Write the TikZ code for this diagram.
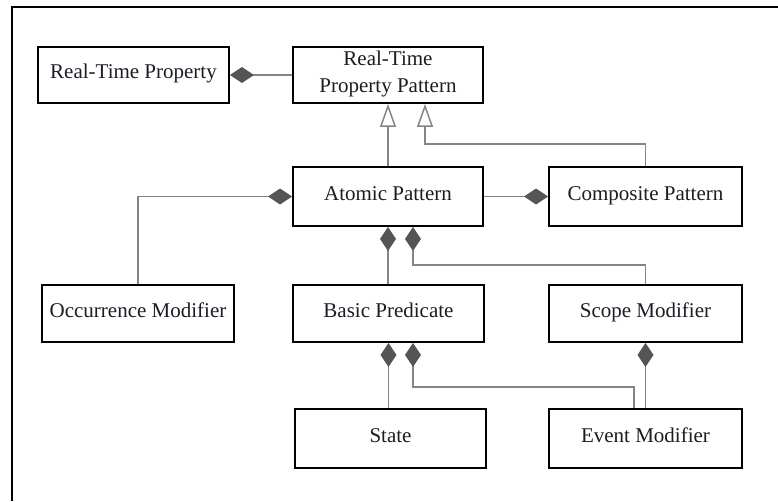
\documentclass[tikz,border=0pt]{standalone}
\usepackage{fontspec}
\setmainfont{Liberation Serif}
\usetikzlibrary{arrows.meta}
\definecolor{linkgray}{HTML}{858585}
\definecolor{tipgray}{HTML}{555555}
\definecolor{textink}{HTML}{1C1C26}
\begin{document}
\begin{tikzpicture}[x=1pt,y=-1pt,
  cls/.style={draw=black, line width=1.9pt, fill=white, text=textink,
    inner sep=0pt, align=center, font=\fontsize{21}{27}\selectfont,
    text height=15pt, text depth=7.4pt},
  link/.style={draw=linkgray, line width=1.9pt},
  owns/.style={link, -{Diamond[length=24pt,width=16pt,color=tipgray,fill=tipgray]}},
  isa/.style={link, -{Triangle[open,length=23pt,width=16pt,color=linkgray,fill=white,line width=1.5pt]}}]
\useasboundingbox (0,0) rectangle (778,501);
% page frame (left and top edges)
\draw[line width=2.2pt] (12,501) -- (12,7) -- (778,7);

% classes
\node[cls, minimum width=191pt, minimum height=56pt] (rtp)   at (133.5,75)  {Real-Time Property};
\node[cls, minimum width=190pt, minimum height=56pt, text height=40pt, text depth=5.4pt] (rtpp) at (388,75) {Real-Time\\Property Pattern};
\node[cls, minimum width=190pt, minimum height=59pt] (atom)  at (388,196.5) {Atomic Pattern};
\node[cls, minimum width=193pt, minimum height=59pt] (comp)  at (645.5,196.5) {Composite Pattern};
\node[cls, minimum width=192pt, minimum height=57pt] (occ)   at (138,313.5) {Occurrence Modifier};
\node[cls, minimum width=191pt, minimum height=57pt] (basic) at (388.5,313.5) {Basic Predicate};
\node[cls, minimum width=193pt, minimum height=57pt] (scope) at (645.5,313.5) {Scope Modifier};
\node[cls, minimum width=191pt, minimum height=59pt] (state) at (390.5,438.5) {State};
\node[cls, minimum width=193pt, minimum height=59pt] (event) at (645.5,438.5) {Event Modifier};

% composition
\draw[owns] (rtpp.west) -- (rtp.east);
\draw[owns] (occ.north) |- (atom.west);
\draw[owns] (atom.east) -- (comp.west);
\draw[owns] (basic.north -| atom.south) -- (atom.south);
\draw[owns] (scope.north) |- ([xshift=25pt,yshift=-38pt]atom.south) -- ([xshift=25pt]atom.south);
\draw[owns] (state.north -| basic.south) -- (basic.south);
\draw[owns] ([xshift=-11.5pt]event.north) |- ([xshift=24.5pt,yshift=-44pt]basic.south) -- ([xshift=24.5pt]basic.south);
\draw[owns] (event.north) -- (scope.south);

% generalisation
\draw[isa] (atom.north) -- (rtpp.south);
\draw[isa] (comp.north) |- ([xshift=37pt,yshift=-40pt]rtpp.south) -- ([xshift=37pt]rtpp.south);
\end{tikzpicture}
\end{document}
